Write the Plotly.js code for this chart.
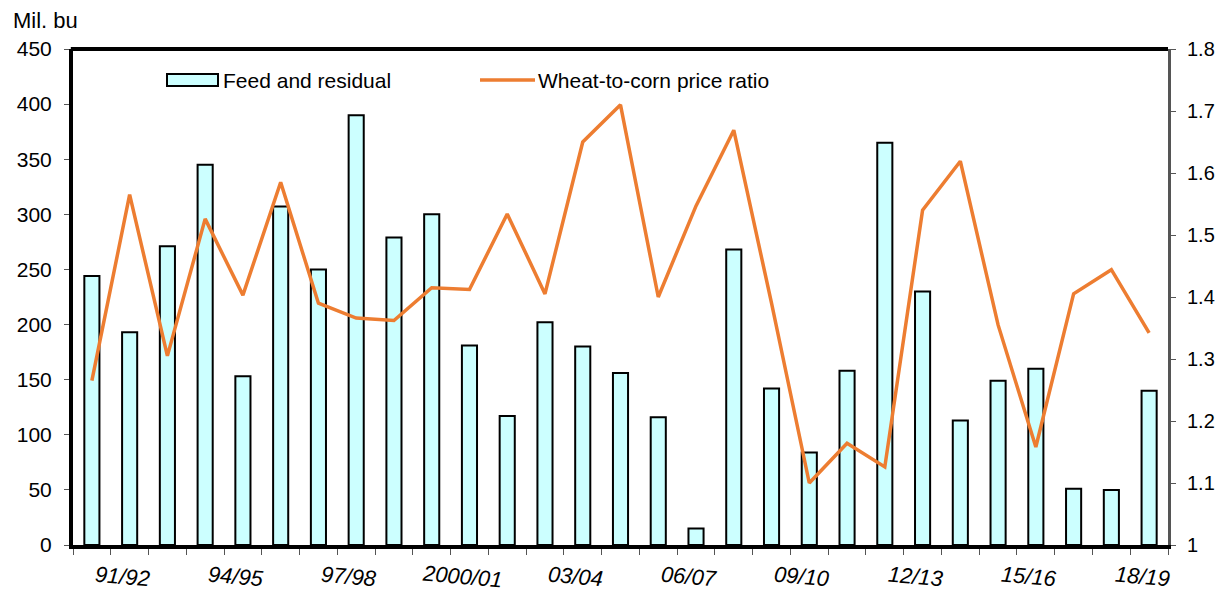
<!DOCTYPE html>
<html>
<head>
<meta charset="utf-8">
<script src="https://cdn.plot.ly/plotly-3.0.1.min.js"></script>
<style>
html,body{margin:0;padding:0;background:#fff;}
#chart{width:1221px;height:592px;}
</style>
</head>
<body>
<div id="chart"></div>
<script>
const years = ["90/91","91/92","92/93","93/94","94/95","95/96","96/97","97/98","98/99","99/2000",
  "2000/01","01/02","02/03","03/04","04/05","05/06","06/07","07/08","08/09","09/10",
  "10/11","11/12","12/13","13/14","14/15","15/16","16/17","17/18","18/19"];
const feedResidual = [244,193,271,345,153,307,250,390,279,300,
  181,117,202,180,156,116,15,268,142,84,
  158,365,230,113,149,160,51,50,140];
const priceRatio = [1.265,1.565,1.305,1.526,1.403,1.585,1.39,1.366,1.362,1.415,
  1.412,1.534,1.405,1.65,1.71,1.40,1.547,1.669,1.39,1.10,
  1.164,1.126,1.54,1.619,1.355,1.158,1.405,1.444,1.342];
const shownLabels = ["91/92","94/95","97/98","2000/01","03/04","06/07","09/10","12/13","15/16","18/19"];
const legendNames = ["Feed and residual","Wheat-to-corn price ratio"];

const FONT = "Liberation Sans, Arial, sans-serif";
const W = 1221, H = 592, L = 73, R = 53, T = 49, B = 47;
const pw = W - L - R, ph = H - T - B;
const px = v => (v - L) / pw;
const py = v => (H - B - v) / ph;

const traces = [
  {type:"bar", x:years, y:feedResidual, name:legendNames[0], yaxis:"y",
   marker:{color:"#CCFFFF", line:{color:"#000", width:2}}, showlegend:false},
  {type:"scatter", mode:"lines", x:years, y:priceRatio, name:legendNames[1], yaxis:"y2",
   line:{color:"#ED7D31", width:3.5}, showlegend:false}
];

const annotations = shownLabels.map(lbl => ({
  x: lbl, xref:"x", y: py(576), yref:"paper", text: lbl, showarrow:false,
  xanchor:"center", yanchor:"middle", textangle:5, xshift:-7,
  font:{family:FONT, size:22, color:"#000", style:"italic"}
}));
annotations.push({x:px(11), xref:"paper", y:py(20), yref:"paper", text:"Mil. bu",
  showarrow:false, xanchor:"left", yanchor:"middle", font:{family:FONT, size:22, color:"#000"}});
annotations.push({x:px(221), xref:"paper", y:py(80), yref:"paper", text:legendNames[0],
  showarrow:false, xanchor:"left", yanchor:"middle", font:{family:FONT, size:21, color:"#000"}});
annotations.push({x:px(536), xref:"paper", y:py(80), yref:"paper", text:legendNames[1],
  showarrow:false, xanchor:"left", yanchor:"middle", font:{family:FONT, size:21, color:"#000"}});

const shapes = [
  {type:"line", xref:"paper", yref:"paper", x0:-0.002, x1:1, y0:1, y1:1, line:{color:"#000", width:4}},
  {type:"rect", xref:"paper", yref:"paper", x0:px(167), x1:px(218), y0:py(86), y1:py(74),
   fillcolor:"#CCFFFF", line:{color:"#000", width:2}},
  {type:"line", xref:"paper", yref:"paper", x0:px(480), x1:px(535), y0:py(80), y1:py(80),
   line:{color:"#ED7D31", width:3.5}}
];

const layout = {
  width:W, height:H,
  margin:{l:L, r:R, t:T, b:B, pad:0},
  paper_bgcolor:"#fff", plot_bgcolor:"#fff",
  bargap:0.6,
  showlegend:false,
  font:{family:FONT, size:20, color:"#000"},
  xaxis:{type:"category", categoryorder:"array", categoryarray:years, range:[-0.5,28.5],
    showline:true, linecolor:"#000", linewidth:4, ticks:"outside", tickson:"boundaries",
    ticklen:6, tickcolor:"#555", tickwidth:1, showticklabels:false, showgrid:false, zeroline:false, fixedrange:true},
  yaxis:{range:[0,450], dtick:50, tick0:0, showline:true, linecolor:"#000", linewidth:4,
    ticks:"outside", ticklen:5, tickcolor:"#555", tickwidth:1, showgrid:false, zeroline:false,
    ticklabelstandoff:8, tickfont:{family:FONT, size:21, color:"#000"}},
  yaxis2:{range:[1,1.8], dtick:0.1, tick0:1, overlaying:"y", side:"right", showline:true,
    linecolor:"#555", linewidth:3, ticks:"outside", ticklen:5, tickcolor:"#555", tickwidth:1,
    showgrid:false, zeroline:false, ticklabelstandoff:7, tickfont:{family:FONT, size:20, color:"#000"}},
  annotations:annotations,
  shapes:shapes
};

Plotly.newPlot("chart", traces, layout, {displayModeBar:false, staticPlot:true});
</script>
</body>
</html>
